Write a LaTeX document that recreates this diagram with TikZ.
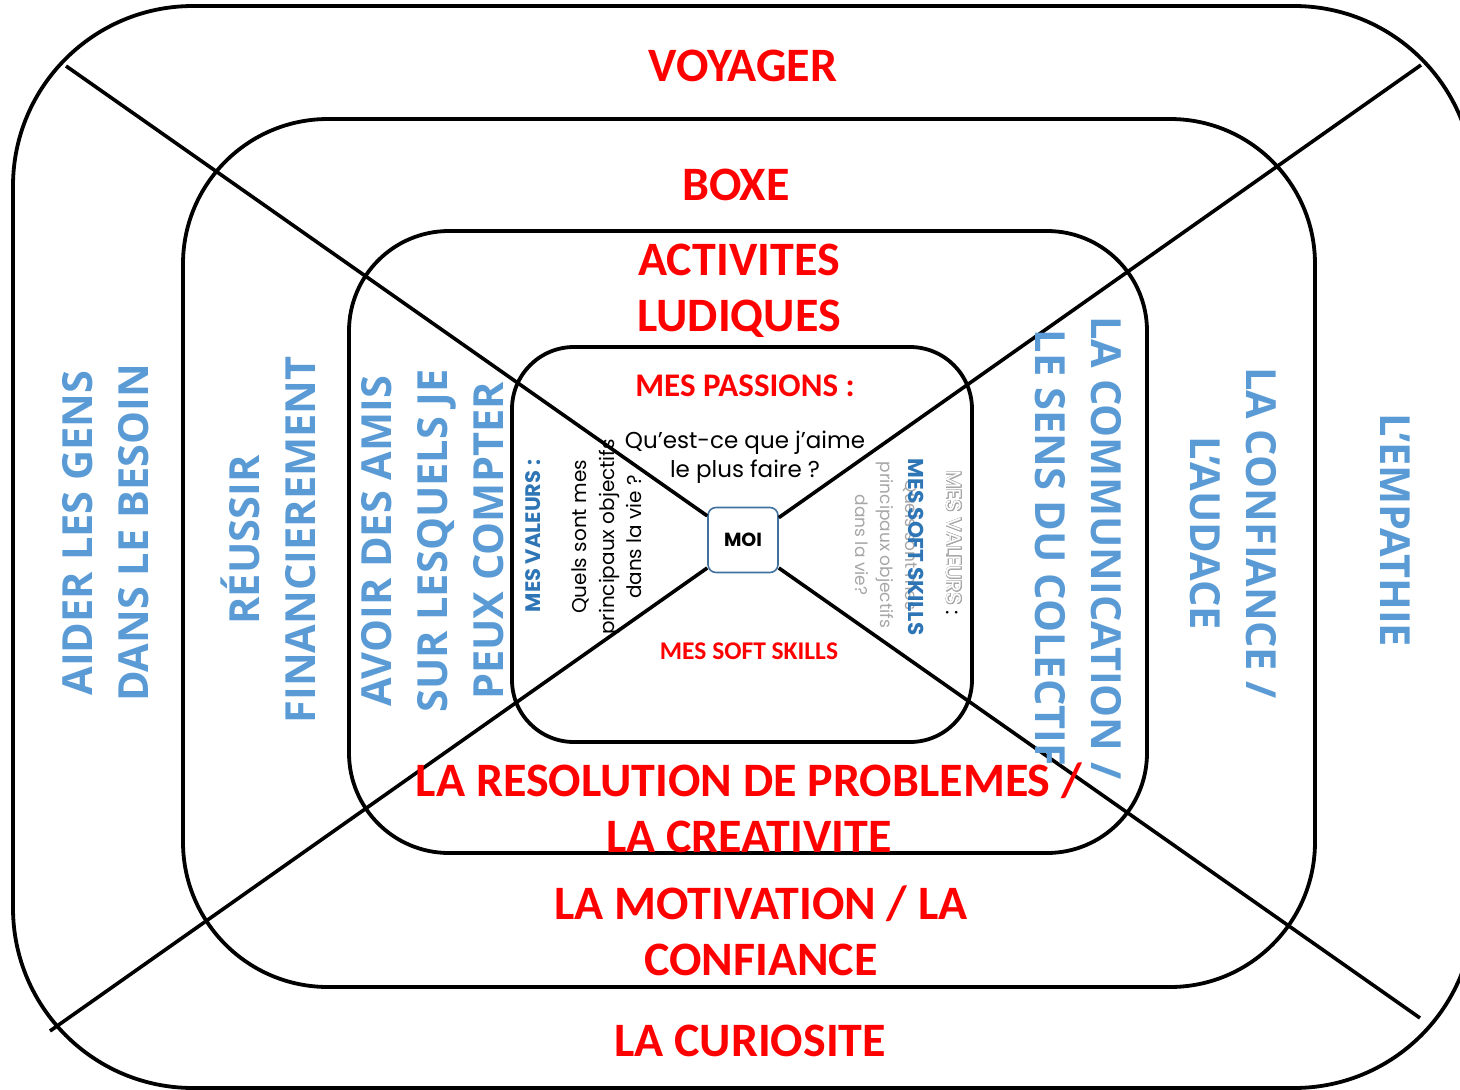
\documentclass[tikz,border=0pt]{standalone}
\usepackage{fontspec}
\setmainfont{Carlito}
\newfontfamily\opensans{Open Sans}
\newfontfamily\gothic{Poppins}
\usepackage{xcolor}
\usepackage{contour}
\contourlength{0.55pt}
\definecolor{lblblue}{HTML}{5B9BD5}
\definecolor{darkblue}{HTML}{2E75B6}
\definecolor{moiblue}{HTML}{41719C}
\definecolor{hgray}{HTML}{A6A6A6}

\begin{document}
\begin{tikzpicture}[x=1pt, y=-1pt,
    ring/.style={draw, line width=3.8pt, rounded corners=#1},
    cut/.style={line width=3.6pt},
    redlbl/.style={text=red, font=\bfseries\fontsize{48}{56}\selectfont, align=center, inner sep=0pt},
    bluelbl/.style={text=lblblue, font=\opensans\bfseries\fontsize{41.5}{56}\selectfont, align=center, inner sep=0pt},
    smallred/.style={text=red, font=\bfseries\fontsize{#1}{#1}\selectfont, inner sep=0pt},
    thin/.style 2 args={font=\gothic\fontsize{#1}{#2}\selectfont, align=center, inner sep=0pt}]

  \useasboundingbox (0,0) rectangle (1460,1090);
  \clip (0,0) rectangle (1460,1090);

  % Rings
  \draw[ring=180pt] (13,6) rectangle (1474,1088);
  \draw[ring=145pt] (183,119) rectangle (1315,987);
  \draw[ring=100pt] (349,231) rectangle (1147,853);
  \draw[ring=62pt] (512,347) rectangle (972,742);

  % Centre
  \node[draw=moiblue, line width=1.6pt, rounded corners=8pt, fill=white,
        minimum width=70pt, minimum height=65pt,
        font=\gothic\bfseries\fontsize{19}{20}\selectfont] (moi) at (743,540) {MOI};

  % Diagonals
  \coordinate (nw) at (66,66);
  \coordinate (ne) at (1421,65);
  \coordinate (sw) at (50,1031);
  \coordinate (se) at (1420,1018);
  \draw[cut] (nw) -- (moi.146);
  \draw[cut] (ne) -- (moi.32);
  \draw[cut] (sw) -- (moi.218);
  \draw[cut] (se) -- (moi.322);

  % Top and bottom
  \node[redlbl] (voyager) at (743,66) {VOYAGER};
  \node[redlbl] (boxe) at (736,185) {BOXE};
  \node[redlbl] (ludiques) at (739,291) {ACTIVITES\\LUDIQUES};
  \node[redlbl] (resolution) at (749,808) {LA RESOLUTION DE PROBLEMES /\\LA CREATIVITE};
  \node[redlbl] (motivation) at (761,931) {LA MOTIVATION / LA\\CONFIANCE};
  \node[redlbl] (curiosite) at (750,1041) {LA CURIOSITE};

  % Left
  \node[bluelbl, rotate=90] (aider) at (106,533) {AIDER LES GENS\\DANS LE BESOIN};
  \node[bluelbl, rotate=90] (reussir) at (268,540) {RÉUSSIR\\FINANCIEREMENT};
  \node[bluelbl, rotate=90] (amis) at (433,541) {AVOIR DES AMIS\\SUR LESQUELS JE\\PEUX COMPTER};

  % Right
  \node[bluelbl, rotate=-90] (empathie) at (1395,530) {L’EMPATHIE};
  \node[bluelbl, rotate=-90] (audace) at (1233,533) {LA CONFIANCE /\\L’AUDACE};
  \node[bluelbl, rotate=-90] (collectif) at (1078,548) {LA COMMUNICATION /\\LE SENS DU COLECTIF};

  % Inner square
  \node[smallred=33] (passions) at (745,386) {MES PASSIONS :};
  \node[thin={23}{29}] (aime) at (745,457) {Qu’est-ce que j’aime\\le plus faire ?};
  \node[smallred=25.5] (skills) at (749,651) {MES SOFT SKILLS};
  \node[text=darkblue, font=\gothic\bfseries\fontsize{21}{22}\selectfont, rotate=90] (valeurs) at (533,536) {MES VALEURS :};
  \node[thin={20}{27.5}, rotate=90] (objectifs) at (607,537) {Quels sont mes\\principaux objectifs\\dans la vie ?};
  \node[thin={17}{25}, text=hgray, rotate=-90] (objectifsb) at (887,545) {Quels sont mes\\principaux objectifs\\dans la vie?};
  \node[text=darkblue, font=\gothic\bfseries\fontsize{21.5}{22}\selectfont, rotate=-90] (skillsb) at (916,547) {MES SOFT SKILLS};
  \node[font=\gothic\fontsize{21}{22}\selectfont, rotate=-90] (valeursb) at (954,543) {\textcolor{white}{\contour{hgray}{MES VALEURS}} :};

\end{tikzpicture}
\end{document}
